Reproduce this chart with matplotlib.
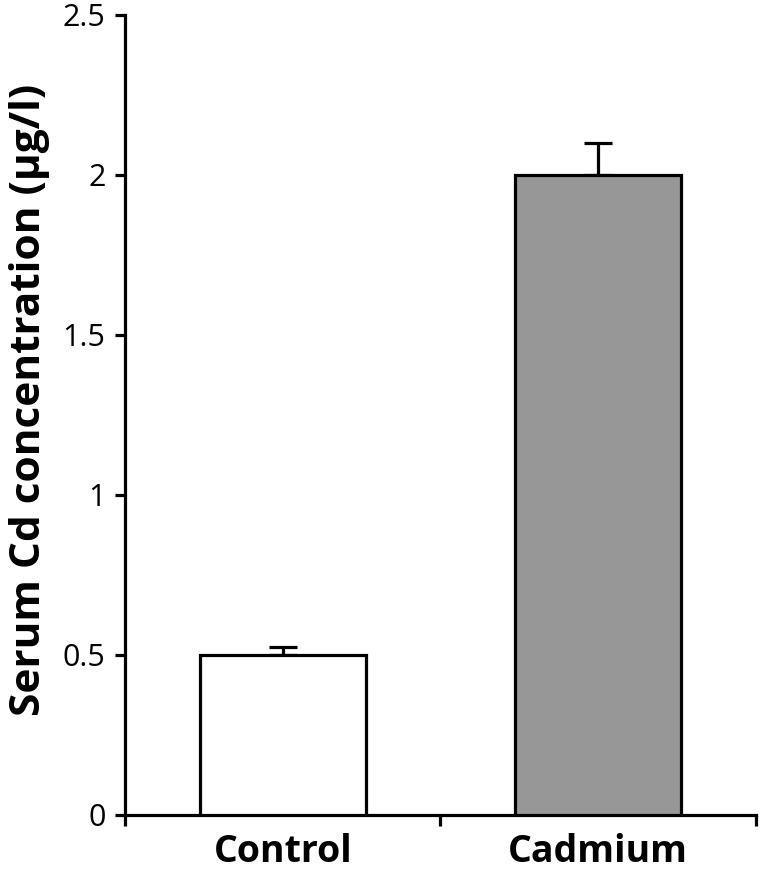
import matplotlib
matplotlib.use("Agg")
import matplotlib.pyplot as plt

groups = ["Control", "Cadmium"]
means = [0.5, 2.0]
errs = [0.025, 0.1]
colors = ["white", "#979797"]

plt.rcParams["font.family"] = ["Open Sans", "DejaVu Sans"]

fig = plt.figure(figsize=(7.65, 8.71), dpi=100)
ax = fig.add_axes([0.1634, 0.0643, 0.8246, 0.9185])

x = range(len(groups))
ax.bar(x, means, width=0.525, color=colors, edgecolor="black", linewidth=2.3, zorder=3)
ax.errorbar(x, means, yerr=[[0, 0], errs], fmt="none", ecolor="black",
            elinewidth=2.3, capsize=10, capthick=2.3, zorder=2)

ax.set_xlim(-0.5, 1.5)
ax.set_ylim(0, 2.5)
ax.set_yticks([0, 0.5, 1, 1.5, 2, 2.5])
ax.set_yticklabels(["0", "0.5", "1", "1.5", "2", "2.5"])
ax.set_xticks([-0.5, 0.5, 1.5])
ax.set_xticklabels([])
ax.set_xticks(list(x), minor=True)
ax.set_xticklabels(groups, minor=True, fontsize=27, fontweight="bold")
ax.tick_params(axis="x", which="minor", length=0, pad=13)
ax.tick_params(axis="x", which="major", length=8, width=2.3, direction="out")
ax.tick_params(axis="y", length=7, width=2.3, direction="out", labelsize=22, pad=7)

for s in ["top", "right"]:
    ax.spines[s].set_visible(False)
for s in ["left", "bottom"]:
    ax.spines[s].set_linewidth(2.3)

ax.set_ylabel("Serum Cd concentration (µg/l)", fontsize=30.5, fontweight="bold")
ax.yaxis.set_label_coords(-0.119, 0.519)

fig.savefig("out.png", dpi=100)
